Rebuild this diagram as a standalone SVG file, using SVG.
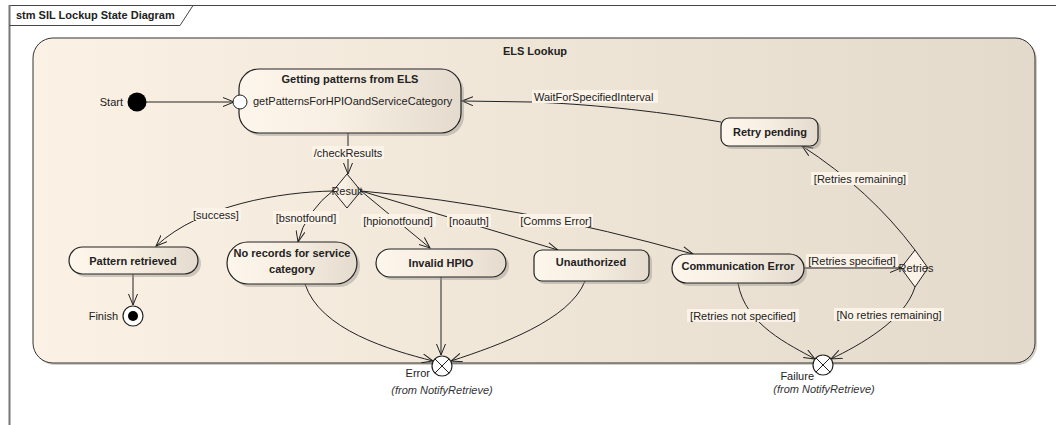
<svg xmlns="http://www.w3.org/2000/svg" width="1056" height="425" viewBox="0 0 1056 425">
  <defs>
    <linearGradient id="compositeFill" x1="0" y1="0" x2="1" y2="0">
      <stop offset="0" stop-color="#FBF1E4"/>
      <stop offset="1" stop-color="#E3DACB"/>
    </linearGradient>
    <linearGradient id="stateFill" x1="0" y1="0" x2="1" y2="0">
      <stop offset="0" stop-color="#FDF6EC"/>
      <stop offset="0.45" stop-color="#F8EFE3"/>
      <stop offset="1" stop-color="#E4DBCE"/>
    </linearGradient>
    <marker id="open" markerWidth="12" markerHeight="10" refX="11" refY="5" orient="auto" markerUnits="userSpaceOnUse">
      <path d="M0,0.5 L11,5 L0,9.5" fill="none" stroke="#222" stroke-width="1"/>
    </marker>
    <style>
      text { font-family: "Liberation Sans", Arial, sans-serif; font-size: 11px; fill: #222; }
      .title { font-weight: bold; }
      .mid { text-anchor: middle; }
      .end { text-anchor: end; }
      .from { font-style: italic; fill: #333; }
      .state { fill: url(#stateFill); stroke: #222; stroke-width: 1.2; }
      .shadow { fill: #9a958e; opacity: 0.45; }
      .conn { fill: none; stroke: #222; stroke-width: 1; marker-end: url(#open); }
      .lbl { fill: #FBF3E8; }
    </style>
  </defs>

  <!-- outer diagram frame with its name tab -->
  <g id="frame">
    <rect x="0" y="0" width="1056" height="425" fill="#fff"/>
    <line x1="9" y1="5.5" x2="1056" y2="5.5" stroke="#444" stroke-width="1"/>
    <line x1="9.5" y1="5" x2="9.5" y2="425" stroke="#777" stroke-width="2"/>
    <path d="M9.5,25.5 H180 L193,5.5" fill="none" stroke="#444" stroke-width="1"/>
    <text x="16" y="19" class="title">stm SIL Lockup State Diagram</text>
  </g>

  <!-- composite state -->
  <g id="els-lookup">
    <rect x="35" y="40" width="1002" height="325" rx="20" fill="#b3ada4" opacity="0.6"/>
    <rect x="33" y="38" width="1002" height="325" rx="20" fill="url(#compositeFill)" stroke="#333" stroke-width="1"/>
    <text x="535" y="55" class="title mid">ELS Lookup</text>
  </g>

  <!-- transitions -->
  <g id="connectors">
    <path class="conn" d="M146,102 H234"/>
    <path class="conn" d="M721,122 C650,110 585,104 532,102 L462,101"/>
    <path class="conn" d="M348,133 V174"/>
    <path class="conn" d="M333,191 C280,192 200,205 156,246"/>
    <path class="conn" d="M336,188 Q305,212 298,242"/>
    <path class="conn" d="M361,191 L430,248"/>
    <path class="conn" d="M361,191 L558,250"/>
    <path class="conn" d="M361,191 Q520,205 693,254"/>
    <path class="conn" d="M133,274 V305"/>
    <path class="conn" d="M305,284 C320,330 390,350 433,361"/>
    <path class="conn" d="M441,277 V355"/>
    <path class="conn" d="M585,281 C570,320 500,345 451,361"/>
    <path class="conn" d="M738,283 C745,325 790,345 815,359"/>
    <path class="conn" d="M804,268 H901"/>
    <path class="conn" d="M915,287 C905,320 860,345 831,359"/>
    <path class="conn" d="M915,250 Q870,190 802,146"/>

    <!-- transition labels -->
    <rect class="lbl" x="532" y="90" width="126" height="13"/>
    <text x="534" y="101">WaitForSpecifiedInterval</text>
    <rect class="lbl" x="312" y="146" width="72" height="13"/>
    <text x="348" y="157" class="mid">/checkResults</text>
    <rect class="lbl" x="192" y="208" width="49" height="13"/>
    <text x="216" y="219" class="mid">[success]</text>
    <rect class="lbl" x="273" y="211" width="66" height="13"/>
    <text x="306" y="222" class="mid">[bsnotfound]</text>
    <rect class="lbl" x="361" y="214" width="75" height="13"/>
    <text x="398" y="225" class="mid">[hpionotfound]</text>
    <rect class="lbl" x="447" y="214" width="44" height="13"/>
    <text x="469" y="225" class="mid">[noauth]</text>
    <rect class="lbl" x="519" y="214" width="74" height="13"/>
    <text x="556" y="225" class="mid">[Comms Error]</text>
    <rect class="lbl" x="811" y="172" width="97" height="13"/>
    <text x="860" y="183" class="mid">[Retries remaining]</text>
    <rect class="lbl" x="806" y="254" width="92" height="13"/>
    <text x="852" y="265" class="mid">[Retries specified]</text>
    <rect class="lbl" x="687" y="309" width="112" height="13"/>
    <text x="743" y="320" class="mid">[Retries not specified]</text>
    <rect class="lbl" x="834" y="308" width="110" height="13"/>
    <text x="889" y="319" class="mid">[No retries remaining]</text>
  </g>

  <g id="start">
    <circle cx="137" cy="102" r="9.5" fill="#000"/>
    <text x="123" y="106" class="end">Start</text>
  </g>

  <g id="getting-patterns">
    <rect class="shadow" x="242" y="72" width="222" height="64" rx="20"/>
    <rect class="state" x="239" y="69" width="222" height="64" rx="20"/>
    <text x="350" y="83" class="title mid">Getting patterns from ELS</text>
    <text x="253" y="105">getPatternsForHPIOandServiceCategory</text>
    <circle cx="240" cy="102" r="7" fill="#fff" stroke="#222" stroke-width="1"/>
  </g>

  <g id="retry-pending">
    <rect class="shadow" x="724" y="121" width="97" height="28" rx="8"/>
    <rect class="state" x="721" y="118" width="97" height="28" rx="8"/>
    <text x="770" y="136" class="title mid">Retry pending</text>
  </g>

  <g id="result">
    <polygon points="347,174 361,191 347,208 333,191" fill="url(#stateFill)" stroke="#222" stroke-width="1"/>
    <text x="347" y="195" class="mid">Result</text>
  </g>

  <g id="pattern-retrieved">
    <rect class="shadow" x="72" y="250" width="129" height="27" rx="13.5"/>
    <rect class="state" x="69" y="247" width="129" height="27" rx="13.5"/>
    <text x="133" y="265" class="title mid">Pattern retrieved</text>
  </g>

  <g id="finish">
    <circle cx="133" cy="316" r="10" fill="#fff" stroke="#222" stroke-width="1.2"/>
    <circle cx="133" cy="316" r="5" fill="#000"/>
    <text x="118" y="320" class="end">Finish</text>
  </g>

  <g id="no-records">
    <rect class="shadow" x="230" y="245" width="130" height="42" rx="21"/>
    <rect class="state" x="227" y="242" width="130" height="42" rx="21"/>
    <text x="292" y="257" class="title mid">No records for service</text>
    <text x="292" y="273" class="title mid">category</text>
  </g>

  <g id="invalid-hpio">
    <rect class="shadow" x="379" y="252" width="130" height="28" rx="14"/>
    <rect class="state" x="376" y="249" width="130" height="28" rx="14"/>
    <text x="441" y="267" class="title mid">Invalid HPIO</text>
  </g>

  <g id="unauthorized">
    <rect class="shadow" x="537" y="253" width="115" height="31" rx="8"/>
    <rect class="state" x="534" y="250" width="115" height="31" rx="8"/>
    <text x="591" y="266" class="title mid">Unauthorized</text>
  </g>

  <g id="communication-error">
    <rect class="shadow" x="675" y="257" width="132" height="29" rx="14.5"/>
    <rect class="state" x="672" y="254" width="132" height="29" rx="14.5"/>
    <text x="738" y="270" class="title mid">Communication Error</text>
  </g>

  <g id="retries">
    <polygon points="915,250 928,268 915,287 901,268" fill="#FBF3E8" stroke="#222" stroke-width="1"/>
    <text x="916" y="272" class="mid">Retries</text>
  </g>

  <g id="error">
    <circle cx="442" cy="366" r="10" fill="#fff" stroke="#222" stroke-width="1.2"/>
    <path d="M435,359 L449,373 M449,359 L435,373" stroke="#222" stroke-width="1"/>
    <text x="430" y="377" class="end">Error</text>
    <text x="442" y="394" class="mid from">(from NotifyRetrieve)</text>
  </g>

  <g id="failure">
    <circle cx="823" cy="365" r="10" fill="#fff" stroke="#222" stroke-width="1.2"/>
    <path d="M816,358 L830,372 M830,358 L816,372" stroke="#222" stroke-width="1"/>
    <text x="814" y="380" class="end">Failure</text>
    <text x="824" y="393" class="mid from">(from NotifyRetrieve)</text>
  </g>
</svg>
